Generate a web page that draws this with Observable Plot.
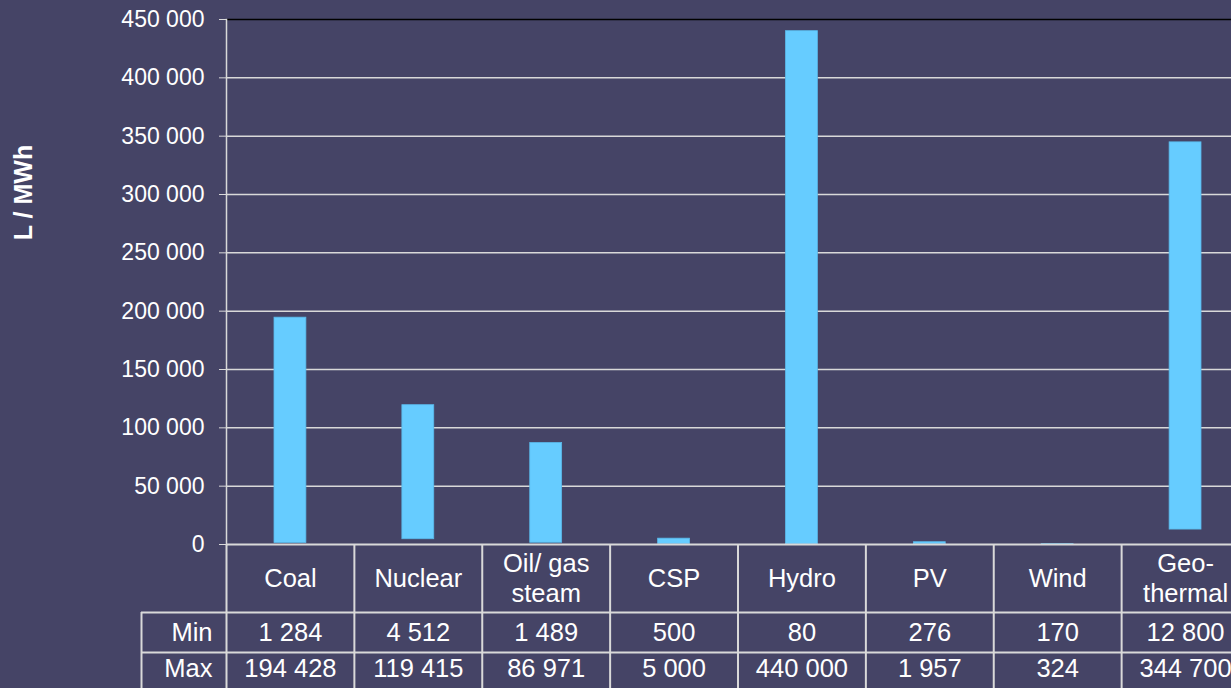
<!DOCTYPE html>
<html>
<head>
<meta charset="utf-8">
<script src="https://cdn.jsdelivr.net/npm/d3@7"></script>
<script src="https://cdn.jsdelivr.net/npm/@observablehq/plot@0.6"></script>
<style>
  html, body { margin: 0; padding: 0; background: #454466; overflow: hidden; }
  #wrap { position: relative; width: 1231px; height: 688px; background: #454466; font-family: "Liberation Sans", Arial, sans-serif; }
  #wrap svg { position: absolute; left: 0; background: transparent; overflow: visible; }
</style>
</head>
<body>
<div id="wrap"></div>
<script>
// ---- data ----
const categories = ["Coal", "Nuclear", "Oil/ gas\nsteam", "CSP", "Hydro", "PV", "Wind", "Geo-\nthermal"];
const minValues = [1284, 4512, 1489, 500, 80, 276, 170, 12800];
const maxValues = [194428, 119415, 86971, 5000, 440000, 1957, 324, 344700];
const rowLabels = ["Min", "Max"];
const yTicks = [0, 50000, 100000, 150000, 200000, 250000, 300000, 350000, 400000, 450000];
const yLabel = "L / MWh";

// ---- styling / layout ----
const W = 1231, H = 688;
const chartBottom = 544, tableH = H - chartBottom;
const xRange = [226, 1249];
const bw = (xRange[1] - xRange[0]) / categories.length;
const gridColor = "#d9d9d9";
const barColor = "#66ccff";
const font = "Liberation Sans, Arial, sans-serif";
const fmt = d => d3.format(",")(d).replace(/,/g, " ");

const rows = categories.map((c, i) => ({cat: c, min: minValues[i], max: maxValues[i]}));
const xScale = {type: "band", domain: categories, range: xRange, padding: 0, round: false, axis: null};

const chart = Plot.plot({
  width: W, height: H,
  marginTop: 19, marginBottom: tableH, marginLeft: 226, marginRight: 0,
  style: {color: "white", background: "transparent", fontFamily: font},
  x: xScale,
  y: {domain: [0, 450000], axis: null},
  marks: [
    Plot.ruleY(yTicks.filter(t => t > 0 && t < 450000), {stroke: gridColor, strokeWidth: 1.5}),
    Plot.ruleY([450000], {stroke: "black", strokeWidth: 1.5}),
    Plot.frame({anchor: "left", stroke: gridColor, strokeWidth: 1.5}),
    Plot.barY(rows, {x: "cat", y1: "min", y2: "max", fill: barColor, stroke: "#5ab9ea", strokeWidth: 0.8, insetLeft: 48, insetRight: 48}),
    Plot.ruleY([0], {stroke: gridColor, strokeWidth: 2}),
    Plot.axisY({ticks: yTicks, tickFormat: fmt, tickSize: 7, tickPadding: 15, fontSize: 23, stroke: gridColor, fill: "white"}),
    Plot.text([yLabel], {frameAnchor: "top-left", text: d => d, rotate: -90, dx: -203, dy: 173,
      fontSize: 25, fontWeight: "bold", fill: "white", textAnchor: "middle", lineAnchor: "middle"})
  ]
});
chart.style.top = "0px";

// table below the plot
const headerH = 68, rowH = 40;
const rowCenters = [33, 88, 124];
const labelColW = 85;

const table = Plot.plot({
  width: W, height: tableH,
  marginTop: 0, marginBottom: 0, marginLeft: 226 - labelColW, marginRight: 0,
  style: {color: "white", background: "transparent", fontFamily: font},
  x: xScale,
  y: {type: "linear", domain: [0, tableH], range: [0, tableH], axis: null},
  marks: [
    Plot.ruleX(categories, {x: d => d, dx: -bw / 2, y1: 0, y2: tableH, stroke: gridColor, strokeWidth: 2}),
    Plot.ruleX([categories[0]], {x: d => d, dx: -bw / 2 - labelColW, y1: headerH, y2: tableH, stroke: gridColor, strokeWidth: 2}),
    Plot.ruleY([headerH, headerH + rowH], {stroke: gridColor, strokeWidth: 2}),
    Plot.text(categories, {x: d => d, y: () => rowCenters[0], text: d => d, fontSize: 25.5, lineHeight: 1.18, fill: "white", lineAnchor: "middle"}),
    Plot.text(rows, {x: "cat", y: () => rowCenters[1], text: d => fmt(d.min), fontSize: 25.5, fill: "white", lineAnchor: "middle"}),
    Plot.text(rows, {x: "cat", y: () => rowCenters[2], text: d => fmt(d.max), fontSize: 25.5, fill: "white", lineAnchor: "middle"}),
    Plot.text(rowLabels, {x: () => categories[0], y: (d, i) => rowCenters[i + 1], text: d => d, dx: -bw / 2 - 14,
      textAnchor: "end", fontSize: 25.5, fill: "white", lineAnchor: "middle"})
  ]
});
table.style.top = chartBottom + "px";

const wrap = document.getElementById("wrap");
wrap.appendChild(chart);
wrap.appendChild(table);
</script>
</body>
</html>
